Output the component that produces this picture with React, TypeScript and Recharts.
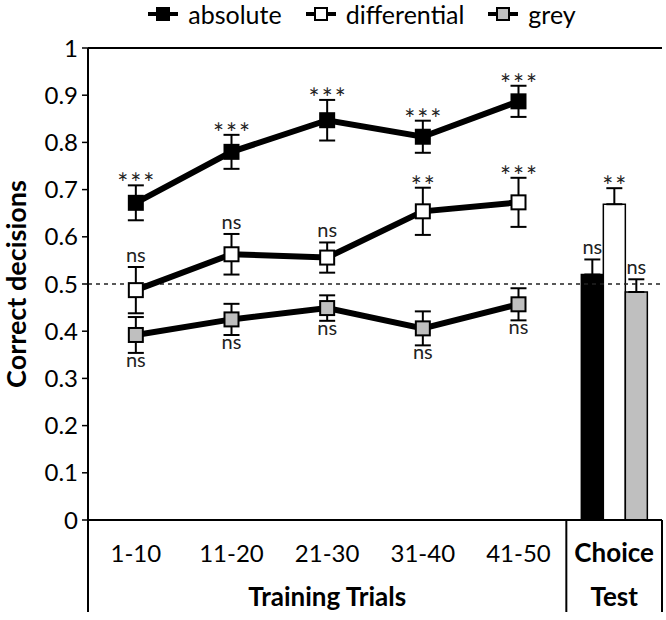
import React from 'react';
import {
  ComposedChart,
  Line,
  Bar,
  XAxis,
  YAxis,
  ErrorBar,
  ReferenceLine,
  LabelList,
  Legend,
} from 'recharts';

const FONT = 'Lato, "Open Sans", sans-serif';

const categories = ['1-10', '11-20', '21-30', '31-40', '41-50', 'Choice'];
const trainingTitle = 'Training Trials';
const choiceTitle = 'Test';
const yTicks = [0, 0.1, 0.2, 0.3, 0.4, 0.5, 0.6, 0.7, 0.8, 0.9, 1];

const seriesNames = ['absolute', 'differential', 'grey'];
const seriesFills = ['#000000', '#ffffff', '#bfbfbf'];

const absoluteMean = [0.672, 0.78, 0.847, 0.812, 0.887];
const absoluteErr = [0.037, 0.036, 0.043, 0.034, 0.033];
const absoluteSig = ['***', '***', '***', '***', '***'];

const differentialMean = [0.487, 0.563, 0.556, 0.654, 0.673];
const differentialErr = [0.049, 0.043, 0.032, 0.05, 0.052];
const differentialSig = ['ns', 'ns', 'ns', '**', '***'];

const greyMean = [0.392, 0.425, 0.449, 0.406, 0.457];
const greyErr = [0.038, 0.033, 0.027, 0.036, 0.034];
const greySig = ['ns', 'ns', 'ns', 'ns', 'ns'];

const choiceMean = [0.52, 0.669, 0.483];
const choiceErr = [0.032, 0.034, 0.027];
const choiceSig = ['ns', '**', 'ns'];

const rows = categories.map((cat, i) => {
  if (i < absoluteMean.length) {
    return {
      cat,
      abs: absoluteMean[i],
      absErr: absoluteErr[i],
      absTop: absoluteMean[i] + absoluteErr[i],
      absSig: absoluteSig[i],
      dif: differentialMean[i],
      difErr: differentialErr[i],
      difTop: differentialMean[i] + differentialErr[i],
      difSig: differentialSig[i],
      gry: greyMean[i],
      gryErr: greyErr[i],
      gryBottom: greyMean[i] - greyErr[i],
      grySig: greySig[i],
    };
  }
  return {
    cat,
    barAbs: choiceMean[0],
    barAbsErr: [0, choiceErr[0]],
    barDif: choiceMean[1],
    barDifErr: [0, choiceErr[1]],
    barGry: choiceMean[2],
    barGryErr: [0, choiceErr[2]],
  };
});

const SquareDot = (fill: string) => (props: any) => {
  const { cx, cy, index } = props;
  if (cx == null || cy == null || isNaN(cx) || isNaN(cy)) return <g key={`e${index}`} />;
  return (
    <rect
      key={`d${index}`}
      x={cx - 7}
      y={cy - 7}
      width={14}
      height={14}
      fill={fill}
      stroke="#000"
      strokeWidth={2}
    />
  );
};

const sigText = (x: number, y: number, text: string) => {
  const stars = text.includes('*');
  return (
    <text
      x={x + (stars ? 1 : 0)}
      y={y}
      textAnchor="middle"
      fontFamily={FONT}
      fontSize={stars ? 26 : 20}
      letterSpacing={stars ? 2 : 0}
      fill="#222"
    >
      {text}
    </text>
  );
};

const aboveLabel = (props: any) => {
  const vb = props.viewBox || props;
  const x = vb.x ?? props.x;
  const y = vb.y ?? props.y;
  const value = props.value;
  if (value == null || x == null || y == null) return null;
  const s = String(value);
  return sigText(x, s.includes('*') ? y + 8 : y - 5, s);
};

const belowLabel = (props: any) => {
  const vb = props.viewBox || props;
  const x = vb.x ?? props.x;
  const y = vb.y ?? props.y;
  const value = props.value;
  if (value == null || x == null || y == null) return null;
  return sigText(x, y + 14, String(value));
};

const barLabel = (seriesIdx: number) => (props: any) => {
  const vb = props.viewBox || props;
  const x = vb.x ?? props.x;
  const y = vb.y ?? props.y;
  const w = vb.width ?? props.width;
  const h = vb.height ?? props.height;
  const v = props.value;
  if (v == null || typeof v !== 'number' || !h) return null;
  const pxPerUnit = h / v;
  const top = y - choiceErr[seriesIdx] * pxPerUnit;
  const s = choiceSig[seriesIdx];
  return sigText(x + w / 2, s.includes('*') ? top + 8 : top - 5, s);
};

const XTick = (props: any) => {
  const { x, y, payload, index } = props;
  const half = payload && payload.offset ? payload.offset : 47.8;
  const base = Number(y);
  const isChoice = payload.value === 'Choice';
  return (
    <g>
      <text
        x={x}
        y={base + 42}
        textAnchor="middle"
        fontFamily={FONT}
        fontSize={isChoice ? 26 : 24}
        fontWeight={isChoice ? 700 : 400}
        fill="#000"
      >
        {payload.value}
      </text>
      {isChoice && (
        <text x={x} y={base + 86} textAnchor="middle" fontFamily={FONT} fontSize={26} fontWeight={700} fill="#000">
          {choiceTitle}
        </text>
      )}
      {index === 2 && (
        <text x={x} y={base + 86} textAnchor="middle" fontFamily={FONT} fontSize={26} fontWeight={700} fill="#000">
          {trainingTitle}
        </text>
      )}
      {index === 0 && (
        <line x1={x - half} x2={x - half} y1={base} y2={base + 92} stroke="#000" strokeWidth={2} />
      )}
      {isChoice && (
        <g>
          <line x1={x - half} x2={x - half} y1={base} y2={base + 92} stroke="#000" strokeWidth={2} />
          <line x1={x + half} x2={x + half} y1={base} y2={base + 92} stroke="#000" strokeWidth={2} />
        </g>
      )}
    </g>
  );
};

const YTitle = (props: any) => {
  const vb = props.viewBox || { x: 0, y: 48, width: 88, height: 472 };
  const cx = 26;
  const cy = vb.y + vb.height / 2;
  return (
    <text
      x={cx}
      y={cy}
      transform={`rotate(-90 ${cx} ${cy})`}
      textAnchor="middle"
      fontFamily={FONT}
      fontSize={27}
      fontWeight={700}
      fill="#000"
    >
      Correct decisions
    </text>
  );
};

const LegendContent = () => (
  <div
    style={{
      height: 28,
      width: 666,
      boxSizing: 'border-box',
      paddingLeft: 58,
      display: 'flex',
      justifyContent: 'center',
      alignItems: 'center',
      fontFamily: FONT,
      fontSize: 25,
      color: '#000',
    }}
  >
    {seriesNames.map((name, i) => (
      <div key={name} style={{ display: 'flex', alignItems: 'center', marginLeft: i === 0 ? 0 : 24 }}>
        <svg width={30} height={14} style={{ display: 'block' }}>
          <line x1={0} x2={30} y1={7} y2={7} stroke="#000" strokeWidth={4} />
          <rect x={9} y={1} width={12} height={12} fill={seriesFills[i]} stroke="#000" strokeWidth={2} />
        </svg>
        <span style={{ marginLeft: 10, lineHeight: '28px' }}>{name}</span>
      </div>
    ))}
  </div>
);

export default function App() {
  return (
    <div style={{ position: 'absolute', left: 0, top: 0, width: 666, height: 620, background: '#fff' }}>
      <ComposedChart
        width={666}
        height={620}
        data={rows}
        margin={{ top: 20, right: 4, bottom: 0, left: 0 }}
        barCategoryGap={15}
        barGap={0}
      >
        <Legend
          verticalAlign="top"
          align="center"
          wrapperStyle={{ top: 0, left: 0, width: 666 }}
          content={<LegendContent />}
        />
        <XAxis
          dataKey="cat"
          height={100}
          interval={0}
          tickLine={false}
          tickSize={0}
          tickMargin={0}
          axisLine={{ stroke: '#000', strokeWidth: 2 }}
          tick={<XTick />}
        />
        <YAxis
          domain={[0, 1]}
          ticks={yTicks}
          width={88}
          tickSize={6}
          tickMargin={4}
          tickFormatter={(v: number) => String(v)}
          axisLine={{ stroke: '#000', strokeWidth: 2 }}
          tickLine={{ stroke: '#000', strokeWidth: 1.5 }}
          tick={{ fontFamily: FONT, fontSize: 24, fill: '#000' }}
          label={<YTitle />}
        />
        <YAxis
          yAxisId="right"
          orientation="right"
          domain={[0, 1]}
          width={0}
          tick={false}
          tickLine={false}
          axisLine={{ stroke: '#000', strokeWidth: 2 }}
        />
        <ReferenceLine y={1} stroke="#000" strokeWidth={2} />

        <Bar dataKey="barAbs" fill={seriesFills[0]} stroke="#000" strokeWidth={1.5} isAnimationActive={false}>
          <ErrorBar dataKey="barAbsErr" direction="y" width={8} stroke="#000" strokeWidth={2} />
          <LabelList dataKey="barAbs" content={barLabel(0)} />
        </Bar>
        <Bar dataKey="barDif" fill={seriesFills[1]} stroke="#000" strokeWidth={1.5} isAnimationActive={false}>
          <ErrorBar dataKey="barDifErr" direction="y" width={8} stroke="#000" strokeWidth={2} />
          <LabelList dataKey="barDif" content={barLabel(1)} />
        </Bar>
        <Bar dataKey="barGry" fill={seriesFills[2]} stroke="#000" strokeWidth={1.5} isAnimationActive={false}>
          <ErrorBar dataKey="barGryErr" direction="y" width={8} stroke="#000" strokeWidth={2} />
          <LabelList dataKey="barGry" content={barLabel(2)} />
        </Bar>

        <ReferenceLine y={0.5} stroke="#222" strokeWidth={1.5} strokeDasharray="4 4" />

        <Line
          dataKey="gry"
          stroke="#000"
          strokeWidth={6}
          dot={SquareDot(seriesFills[2])}
          activeDot={false}
          isAnimationActive={false}
        >
          <ErrorBar dataKey="gryErr" direction="y" width={8} stroke="#000" strokeWidth={2} />
        </Line>
        <Line
          dataKey="dif"
          stroke="#000"
          strokeWidth={6}
          dot={SquareDot(seriesFills[1])}
          activeDot={false}
          isAnimationActive={false}
        >
          <ErrorBar dataKey="difErr" direction="y" width={8} stroke="#000" strokeWidth={2} />
        </Line>
        <Line
          dataKey="abs"
          stroke="#000"
          strokeWidth={6}
          dot={SquareDot(seriesFills[0])}
          activeDot={false}
          isAnimationActive={false}
        >
          <ErrorBar dataKey="absErr" direction="y" width={8} stroke="#000" strokeWidth={2} />
        </Line>

        <Line dataKey="absTop" stroke="none" dot={false} activeDot={false} legendType="none" isAnimationActive={false}>
          <LabelList dataKey="absSig" content={aboveLabel} />
        </Line>
        <Line dataKey="difTop" stroke="none" dot={false} activeDot={false} legendType="none" isAnimationActive={false}>
          <LabelList dataKey="difSig" content={aboveLabel} />
        </Line>
        <Line dataKey="gryBottom" stroke="none" dot={false} activeDot={false} legendType="none" isAnimationActive={false}>
          <LabelList dataKey="grySig" content={belowLabel} />
        </Line>
      </ComposedChart>
    </div>
  );
}
